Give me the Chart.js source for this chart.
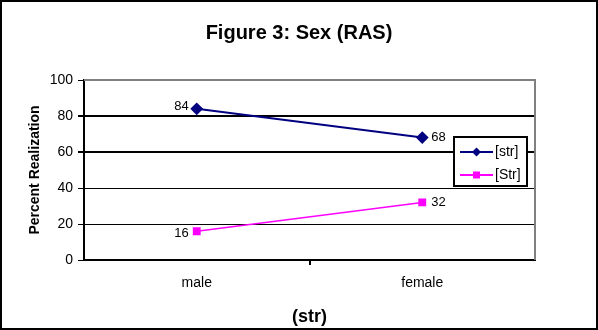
<!DOCTYPE html>
<html lang="en">
<head>
  <meta charset="UTF-8">
  <title>Figure 3: Sex (RAS)</title>
  <script src="https://cdn.jsdelivr.net/npm/chart.js"></script>
  <style>
    html, body { margin: 0; padding: 0; background: #fff; }
    .chart-container { width: 598px; height: 330px; position: relative; }
  </style>
</head>
<body>
  <div class="chart-container">
    <canvas id="chartCanvas"></canvas>
  </div>

  <script>
    // data
    const categories = ["male", "female"];
    const seriesNames = ["[str]", "[Str]"];
    const strValues = [84, 68];
    const StrValues = [16, 32];
    const yTicks = [0, 20, 40, 60, 80, 100];

    const FONT = "'Liberation Sans', Arial, sans-serif";

    // frame around the whole picture + grey plot border
    const framePlugin = {
      id: "frame",
      beforeDatasetsDraw(chart) {
        const { ctx, chartArea } = chart;
        ctx.save();
        ctx.strokeStyle = "#808080";
        ctx.lineWidth = 2;
        ctx.beginPath();
        ctx.moveTo(chartArea.left, chartArea.top);
        ctx.lineTo(chartArea.right, chartArea.top);
        ctx.lineTo(chartArea.right, chartArea.bottom);
        ctx.stroke();
        ctx.restore();
      },
      afterDraw(chart) {
        const ctx = chart.ctx;
        ctx.save();
        ctx.strokeStyle = "#000";
        ctx.lineWidth = 2;
        ctx.strokeRect(1, 1, chart.width - 2, chart.height - 2);
        ctx.restore();
      }
    };

    // value labels next to the points
    const valueLabels = {
      id: "valueLabels",
      afterDatasetsDraw(chart) {
        const ctx = chart.ctx;
        ctx.save();
        ctx.font = "13px " + FONT;
        ctx.fillStyle = "#000";
        ctx.textBaseline = "middle";
        chart.data.datasets.forEach((ds, i) => {
          chart.getDatasetMeta(i).data.forEach((pt, j) => {
            if (j === 0) {
              ctx.textAlign = "right";
              ctx.fillText(ds.data[j], pt.x - 8, pt.y + (i === 1 ? 2 : -2));
            } else {
              ctx.textAlign = "left";
              ctx.fillText(ds.data[j], pt.x + 9, pt.y);
            }
          });
        });
        ctx.restore();
      }
    };

    // boxed legend sitting on the right of the plot
    const boxLegend = {
      id: "boxLegend",
      afterDraw(chart) {
        const ctx = chart.ctx;
        const x = 454, y = 137, w = 73, h = 49;
        ctx.save();
        ctx.fillStyle = "#fff";
        ctx.fillRect(x, y, w, h);
        ctx.strokeStyle = "#000";
        ctx.lineWidth = 2;
        ctx.strokeRect(x, y, w, h);
        ctx.font = "14px " + FONT;
        ctx.textBaseline = "middle";
        ctx.textAlign = "left";
        chart.data.datasets.forEach((ds, i) => {
          const ry = y + 15 + i * 23;
          ctx.strokeStyle = ds.borderColor;
          ctx.lineWidth = 2;
          ctx.beginPath();
          ctx.moveTo(x + 6, ry);
          ctx.lineTo(x + 39, ry);
          ctx.stroke();
          ctx.fillStyle = ds.borderColor;
          if (ds.pointStyle === "rectRot") {
            ctx.beginPath();
            ctx.moveTo(x + 22.5, ry - 4.5);
            ctx.lineTo(x + 27, ry);
            ctx.lineTo(x + 22.5, ry + 4.5);
            ctx.lineTo(x + 18, ry);
            ctx.closePath();
            ctx.fill();
          } else {
            ctx.fillRect(x + 19, ry - 3.5, 7, 7);
          }
          ctx.fillStyle = "#000";
          ctx.fillText(ds.label, x + 41, ry);
        });
        ctx.restore();
      }
    };

    const ctx = document.getElementById("chartCanvas").getContext("2d");
    new Chart(ctx, {
      type: "line",
      data: {
        labels: categories,
        datasets: [
          {
            label: seriesNames[0],
            data: strValues,
            borderColor: "#000080",
            backgroundColor: "#000080",
            borderWidth: 2,
            pointStyle: "rectRot",
            pointRadius: 5,
            tension: 0,
            fill: false
          },
          {
            label: seriesNames[1],
            data: StrValues,
            borderColor: "#FF00FF",
            backgroundColor: "#FF00FF",
            borderWidth: 1.5,
            pointStyle: "rect",
            pointRadius: 4.5,
            tension: 0,
            fill: false
          }
        ]
      },
      options: {
        responsive: true,
        maintainAspectRatio: false,
        animation: false,
        layout: { padding: 0 },
        plugins: {
          legend: { display: false },
          tooltip: { enabled: false },
          title: {
            display: true,
            text: "Figure 3: Sex (RAS)",
            color: "#000",
            font: { family: FONT, size: 20, weight: "bold" },
            padding: { top: 21, bottom: 35 }
          }
        },
        scales: {
          x: {
            offset: true,
            afterFit(scale) { scale.height = 70; },
            grid: {
              offset: true,
              drawOnChartArea: false,
              drawTicks: true,
              tickLength: 5,
              // only the tick between the two categories is visible
              color: (c) => c.type === "tick" && c.index === 1 ? "#000" : "rgba(0,0,0,0)",
              lineWidth: 2
            },
            border: { color: "#000", width: 2 },
            ticks: {
              color: "#000",
              padding: 10,
              font: { family: FONT, size: 14 }
            },
            title: {
              display: true,
              text: "(str)",
              color: "#000",
              font: { family: FONT, size: 18, weight: "bold" },
              padding: { top: 4, bottom: 2 }
            }
          },
          y: {
            min: 0,
            max: 100,
            afterFit(scale) { scale.width = 84; },
            afterBuildTicks(scale) { scale.ticks = yTicks.map(v => ({ value: v })); },
            grid: {
              color: (c) => c.tick && c.tick.value === 100 ? "rgba(0,0,0,0)" : "#000",
              lineWidth: (c) => c.tick && (c.tick.value === 80 || c.tick.value === 60) ? 2 : 1,
              tickLength: 6,
              tickColor: "#000"
            },
            border: { color: "#000", width: 2 },
            ticks: {
              color: "#000",
              padding: 5,
              font: { family: FONT, size: 14 }
            },
            title: {
              display: true,
              text: "Percent Realization",
              color: "#000",
              font: { family: FONT, size: 14, weight: "bold" },
              padding: { top: 27, bottom: 0 }
            }
          },
          // empty right-hand axis: keeps room for the legend so the title stays centred on the picture
          yRight: {
            type: "linear",
            position: "right",
            afterFit(scale) { scale.width = 63; },
            grid: { display: false },
            border: { display: false },
            ticks: { display: false }
          }
        }
      },
      plugins: [framePlugin, valueLabels, boxLegend]
    });
  </script>
</body>
</html>
